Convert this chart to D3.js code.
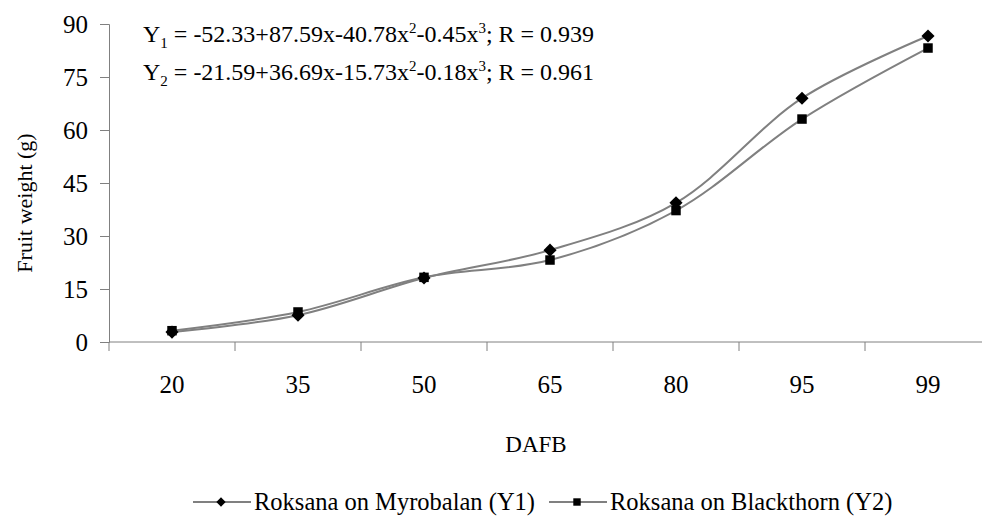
<!DOCTYPE html>
<html lang="en">
<head>
<meta charset="UTF-8">
<script src="https://d3js.org/d3.v7.min.js"></script>
<style>
  body { margin: 0; background: #fff; }
  text { font-family: "Liberation Serif", "Times New Roman", serif; fill: #000; }
</style>
</head>
<body>
<div id="chart"></div>
<script>
var days = ["20", "35", "50", "65", "80", "95", "99"];
var myrobalan = [2.8, 7.6, 18.1, 26.0, 39.4, 69.0, 86.6];
var blackthorn = [3.2, 8.5, 18.3, 23.2, 37.2, 63.1, 83.2];
var yTicks = [0, 15, 30, 45, 60, 75, 90];

var width = 982, height = 516;
var plotLeft = 109, plotTop = 24, plotBottom = 342;

var svg = d3.select("#chart").append("svg")
    .attr("width", width)
    .attr("height", height);

var x = d3.scaleBand().domain(days).range([plotLeft, plotLeft + 126 * days.length]);
var y = d3.scaleLinear().domain([0, 90]).range([plotBottom, plotTop]);

function cx(i) { return x(days[i]) + x.bandwidth() / 2; }

// y axis
var yAxis = svg.append("g")
    .attr("transform", "translate(" + plotLeft + ",0)")
    .call(d3.axisLeft(y).tickValues(yTicks).tickSize(9).tickPadding(12));
yAxis.select(".domain").attr("stroke", "#808080");
yAxis.selectAll(".tick line").attr("stroke", "#808080");
yAxis.selectAll("text")
    .attr("font-size", "25px")
    .attr("font-family", "Liberation Serif")
    .attr("fill", "#000");

// x axis: line, ticks between categories, labels at centres
svg.append("line")
    .attr("x1", plotLeft).attr("x2", width)
    .attr("y1", plotBottom).attr("y2", plotBottom)
    .attr("stroke", "#808080");
svg.selectAll(".xtick")
    .data(days)
    .enter().append("line")
    .attr("x1", function (d) { return x(d); })
    .attr("x2", function (d) { return x(d); })
    .attr("y1", plotBottom).attr("y2", plotBottom + 9)
    .attr("stroke", "#808080");
svg.selectAll(".xlabel")
    .data(days)
    .enter().append("text")
    .attr("x", function (d) { return x(d) + x.bandwidth() / 2; })
    .attr("y", 393)
    .attr("text-anchor", "middle")
    .attr("font-size", "25px")
    .text(function (d) { return d; });

// axis titles
svg.append("text")
    .attr("transform", "translate(32,203) rotate(-90)")
    .attr("text-anchor", "middle")
    .attr("font-size", "22px")
    .text("Fruit weight (g)");
svg.append("text")
    .attr("x", 536).attr("y", 452)
    .attr("text-anchor", "middle")
    .attr("font-size", "23px")
    .text("DAFB");

// lines
var line = d3.line()
    .x(function (d, i) { return cx(i); })
    .y(function (d) { return y(d); })
    .curve(d3.curveCatmullRom.alpha(0.5));

[myrobalan, blackthorn].forEach(function (s) {
    svg.append("path")
        .datum(s)
        .attr("d", line)
        .attr("fill", "none")
        .attr("stroke", "#808080")
        .attr("stroke-width", 2);
});

var diamond = d3.symbol().type(d3.symbolDiamond2).size(110);
var square = d3.symbol().type(d3.symbolSquare).size(90);

svg.selectAll(".m1")
    .data(myrobalan)
    .enter().append("path")
    .attr("d", diamond)
    .attr("transform", function (d, i) { return "translate(" + cx(i) + "," + y(d) + ")"; })
    .attr("fill", "#000");
svg.selectAll(".m2")
    .data(blackthorn)
    .enter().append("path")
    .attr("d", square)
    .attr("transform", function (d, i) { return "translate(" + cx(i) + "," + y(d) + ")"; })
    .attr("fill", "#000");

// equations
function equation(yPos, sub, body, r) {
    var t = svg.append("text").attr("x", 143).attr("y", yPos).attr("font-size", "24px");
    t.append("tspan").text("Y");
    t.append("tspan").attr("font-size", "15px").attr("dy", 6).text(sub);
    t.append("tspan").attr("dy", -6).text(" = " + body[0] + "x" + body[1]);
    t.append("tspan").attr("font-size", "15px").attr("dy", -9).text("2");
    t.append("tspan").attr("dy", 9).text(body[2]);
    t.append("tspan").attr("font-size", "15px").attr("dy", -9).text("3");
    t.append("tspan").attr("dy", 9).text("; R = " + r);
}
equation(42, "1", ["-52.33+87.59", "-40.78x", "-0.45x"], "0.939");
equation(80, "2", ["-21.59+36.69", "-15.73x", "-0.18x"], "0.961");

// legend
var legend = [
    { name: "Roksana on Myrobalan (Y1)", sym: diamond, x0: 193 },
    { name: "Roksana on Blackthorn (Y2)", sym: square, x0: 549 }
];
legend.forEach(function (d) {
    var g = svg.append("g").attr("transform", "translate(" + d.x0 + ",502)");
    g.append("line").attr("x1", 0).attr("x2", 58).attr("stroke", "#808080").attr("stroke-width", 2);
    g.append("path").attr("d", d.sym.size(55)).attr("transform", "translate(28,0)").attr("fill", "#000");
    g.append("text").attr("x", 61).attr("y", 8).attr("font-size", "24.5px").text(d.name);
});
</script>
</body>
</html>
